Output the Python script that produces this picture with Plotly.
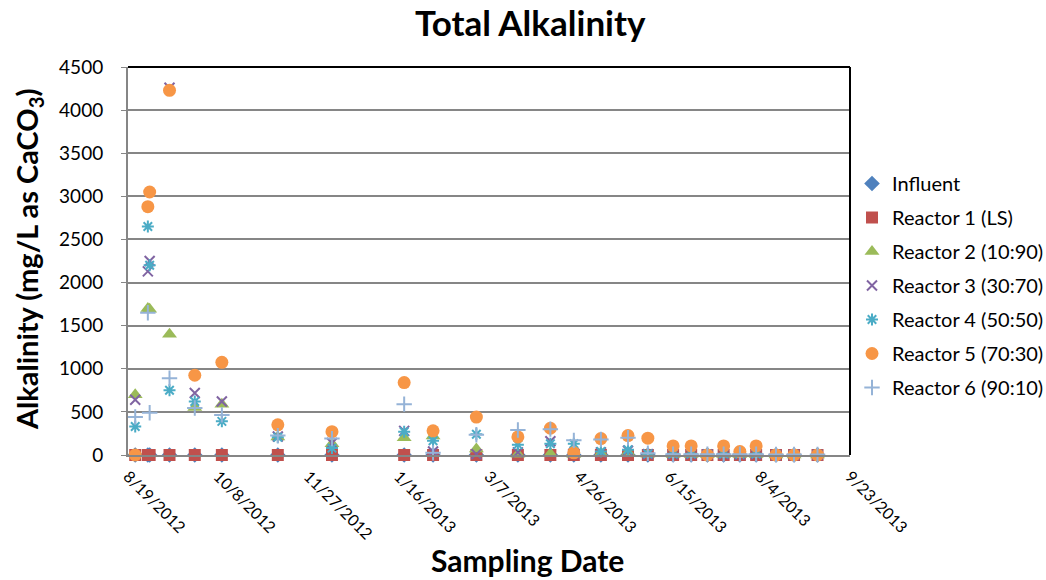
import plotly.graph_objects as go

# ---- data ----
dates = ["2012-08-23", "2012-08-30", "2012-08-31", "2012-09-11", "2012-09-25", "2012-10-10",
         "2012-11-10", "2012-12-10", "2013-01-19", "2013-02-04", "2013-02-28", "2013-03-23",
         "2013-04-10", "2013-04-23", "2013-05-08", "2013-05-23", "2013-06-03", "2013-06-17",
         "2013-06-27", "2013-07-06", "2013-07-15", "2013-07-24", "2013-08-02", "2013-08-13",
         "2013-08-23", "2013-09-05"]

influent = [0] * 26
reactor1 = [0] * 26
reactor2 = [700, 1700, 1690, 1400, 550, 590, 210, 130, 200, 220, 70, 10, 15, 5, 20, 30,
            10, 5, 5, 5, 5, 5, 5, 0, 0, 0]
reactor3 = [640, 2130, 2250, 4260, 720, 620, 215, 140, 280, 40, 10, 30, 160, 20, 30, 50,
            10, 10, 10, 5, 10, 5, 10, 0, 0, 0]
reactor4 = [330, 2650, 2200, 750, 620, 390, 205, 80, 270, 165, 240, 120, 130, 130, 40, 60,
            15, 15, 15, 10, 15, 10, 15, 5, 5, 5]
reactor5 = [0, 2880, 3050, 4230, 925, 1075, 350, 270, 840, 280, 440, 210, 310, 25, 190, 225,
            195, 105, 105, 0, 105, 40, 105, 0, 0, 0]
reactor6 = [440, 1650, 490, 890, 545, 465, 225, 190, 590, 25, 235, 290, 300, 170, 180, 200,
            20, 8, 10, 10, 10, 10, 10, 5, 5, 5]

names = ["Influent", "Reactor 1 (LS)", "Reactor 2 (10:90)", "Reactor 3 (30:70)",
         "Reactor 4 (50:50)", "Reactor 5 (70:30)", "Reactor 6 (90:10)"]
series = [influent, reactor1, reactor2, reactor3, reactor4, reactor5, reactor6]
colors = ["#4F81BD", "#C0504D", "#9BBB59", "#8064A2", "#4BACC6", "#F79646", "#95B3D7"]
symbols = ["diamond", "square", "triangle-up", "x-thin-open", "asterisk-open", "circle", "cross-thin-open"]
sizes = [12, 12, 13, 10, 10, 13, 11]

FONT = "Lato"
PL, PR, PT, PB = 128, 850, 67, 455
PW, PH = PR - PL, PB - PT

fig = go.Figure()
for i, (nm, ys) in enumerate(zip(names, series)):
    mk = dict(symbol=symbols[i], size=sizes[i], color=colors[i])
    if symbols[i].endswith("open"):
        mk["line"] = dict(color=colors[i], width=2)
    else:
        mk["line"] = dict(width=0)
    fig.add_trace(go.Scatter(x=dates, y=ys, mode="markers", name=nm, marker=mk,
                             legendgroup=f"g{i}", cliponaxis=False))

fig.update_layout(
    width=1046, height=580,
    margin=dict(l=PL, r=1046 - PR, t=PT, b=580 - PB, autoexpand=False),
    paper_bgcolor="white", plot_bgcolor="white",
    font=dict(family=FONT, color="#000000"),
    showlegend=True,
    legend=dict(xref="container", yref="container", x=852 / 1046, xanchor="left",
                y=1 - 164 / 580, yanchor="top", font=dict(size=20, family=FONT),
                tracegroupgap=5, traceorder="grouped", itemsizing="trace",
                bgcolor="rgba(0,0,0,0)"),
    xaxis=dict(
        type="date", range=["2012-08-19", "2013-09-23"],
        tickmode="linear", tick0="2012-08-19", dtick=50 * 86400000,
        tickformat="%-m/%-d/%Y", tickangle=45,
        tickfont=dict(size=16, family=FONT),
        showgrid=False, showline=True, linecolor="#868686", linewidth=2,
        ticks="outside", ticklen=4, tickcolor="rgba(0,0,0,0)", zeroline=False,
        automargin=False,
    ),
    yaxis=dict(
        range=[0, 4500], tickmode="linear", tick0=0, dtick=500,
        tickfont=dict(size=19, family=FONT),
        showgrid=True, gridcolor="#868686", gridwidth=2,
        showline=True, linecolor="#868686", linewidth=2,
        ticks="outside", ticklen=5, tickcolor="#868686", zeroline=False,
        ticklabelstandoff=14, automargin=False,
    ),
    annotations=[
        dict(text="<b>Total Alkalinity</b>", xref="paper", yref="paper", x=(530 - PL) / PW,
             y=(PB - 22) / PH, xanchor="center", yanchor="middle", showarrow=False,
             font=dict(size=35, family=FONT, color="#000000")),
        dict(text="<b>Sampling Date</b>", xref="paper", yref="paper", x=(527 - PL) / PW,
             y=(PB - 560) / PH, xanchor="center", yanchor="middle", showarrow=False,
             font=dict(size=30, family=FONT, color="#000000")),
        dict(text="<b>Alkalinity (mg/L as CaCO<sub>3</sub>)</b>", xref="paper", yref="paper",
             x=(28 - PL) / PW, y=(PB - 260) / PH, xanchor="center", yanchor="middle",
             textangle=-90, showarrow=False,
             font=dict(size=29, family=FONT, color="#000000")),
    ],
)

fig.add_shape(type="line", xref="paper", yref="paper", x0=0, x1=1, y0=1, y1=1,
              line=dict(color="#000000", width=2), layer="above")
fig.add_shape(type="line", xref="paper", yref="paper", x0=1, x1=1, y0=0, y1=1,
              line=dict(color="#000000", width=2), layer="above")

fig.write_html("out.html")
